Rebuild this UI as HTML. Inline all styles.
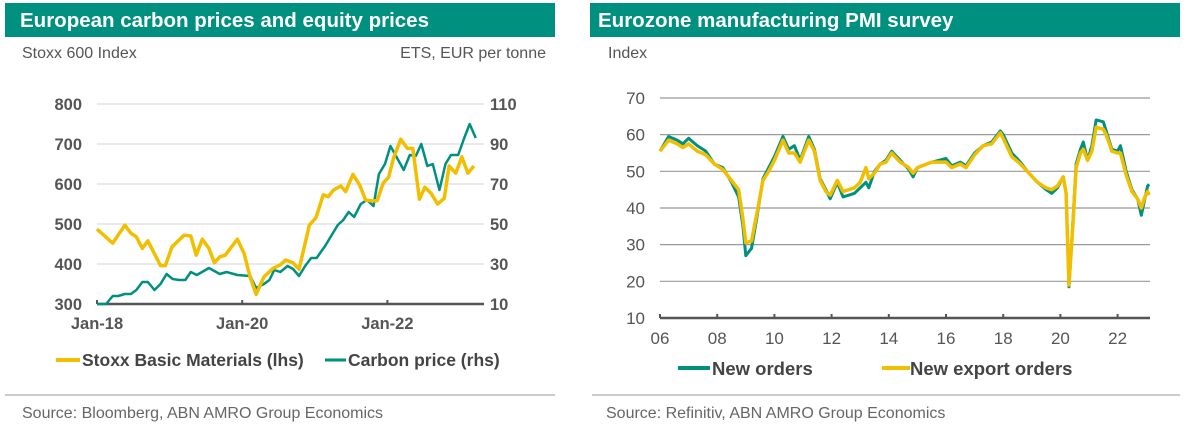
<!DOCTYPE html>
<html><head><meta charset="utf-8"><style>
body{margin:0;background:#fff;width:1189px;height:431px;overflow:hidden;font-family:"Liberation Sans",Arial,sans-serif}
svg text{font-family:"Liberation Sans",Arial,sans-serif}
</style></head><body>
<svg id="s" width="1189" height="431" xmlns="http://www.w3.org/2000/svg">
<rect x="5" y="3" width="550" height="34" fill="#00907F"/>
<text x="20" y="27" font-size="20.5" font-weight="bold" fill="#fff">European carbon prices and equity prices</text>
<text x="22" y="58" font-size="16" fill="#555">Stoxx 600 Index</text>
<text x="546" y="58" font-size="16" fill="#555" text-anchor="end">ETS, EUR per tonne</text>
<rect x="590" y="3" width="590" height="34" fill="#00907F"/>
<text x="598" y="27" font-size="20.5" font-weight="bold" fill="#fff">Eurozone manufacturing PMI survey</text>
<text x="608" y="58" font-size="16" fill="#555">Index</text>
<g id="L"></g><g id="R"></g>
<line x1="5" y1="395" x2="555" y2="395" stroke="#bbb" stroke-width="1.5"/>
<line x1="592" y1="395" x2="1180" y2="395" stroke="#bbb" stroke-width="1.5"/>
<text x="22" y="418" font-size="16" fill="#666">Source: Bloomberg, ABN AMRO Group Economics</text>
<text x="606" y="418" font-size="16" fill="#666">Source: Refinitiv, ABN AMRO Group Economics</text>
</svg>
<script>
// Left chart data (month index from Jan-18)
const stoxxMonths=[0,2.6,4.6,5.6,6.5,7.5,8.4,10.5,11.3,12.4,14.4,15.5,16.4,17.4,18.5,19.4,20.3,21.2,23.2,24.3,25.3,26.3,27.6,29.1,30.3,31.2,32.4,33.4,35.1,36.2,37.4,38.2,39.1,40.3,41.1,42.3,43.4,44.4,45.3,46.3,47.3,48.2,49.0,50.2,51.3,52.2,53.3,54.2,55.2,56.3,57.4,58.2,59.3,60.3,61.3,62.3];
const stoxxValues=[487,452,497,477,468,439,458,396,396,443,472,470,422,462,439,403,418,422,462,427,368,324,368,389,398,410,403,387,497,516,573,568,585,595,581,624,598,560,558,558,602,617,664,712,689,689,562,592,577,550,564,645,627,668,627,645];
const carbonMonths=[0,1.5,2.6,3.5,4.6,5.6,6.5,7.5,8.4,9.5,10.5,11.5,12.5,13.6,14.6,15.5,16.5,18.5,20.3,21.4,23.2,25.3,26.3,27.6,28.5,29.3,30.3,31.5,32.4,33.4,34.4,35.4,36.3,37.7,38.9,39.8,40.7,41.6,42.5,43.6,44.6,45.7,46.6,47.6,48.5,49.6,50.7,51.7,52.7,53.6,54.6,55.5,56.6,57.6,58.5,59.7,60.7,61.6,62.6];
const carbonValues=[10,10,14,14,15,15,17,21,21,17,20,25,22.5,22,22,26,24.5,28,25,26,24.5,24,18,20,22,27,26,29,27.5,24,29,33,33,39,45,49.5,52,56,53.5,60,62,59,75,80,89,83,77,84.5,84,90,79,80,67,80,84.5,84.5,93,100,93];
const leftTicks=[800,700,600,500,400,300];
const rightTicks=[110,90,70,50,30,10];
const xTickLabels=["Jan-18","Jan-20","Jan-22"];
const xTickMonths=[0,24,48];
// Right chart data (decimal years)
const ordYears=[2006.0,2006.3,2006.6,2006.8,2007.0,2007.3,2007.6,2007.9,2008.2,2008.5,2008.75,2008.9,2009.0,2009.2,2009.4,2009.6,2009.8,2010.0,2010.3,2010.5,2010.7,2010.9,2011.2,2011.4,2011.6,2011.8,2011.95,2012.2,2012.4,2012.6,2012.8,2013.0,2013.2,2013.3,2013.5,2013.7,2013.9,2014.1,2014.4,2014.7,2014.85,2015.0,2015.5,2016.0,2016.2,2016.5,2016.7,2017.0,2017.3,2017.6,2017.9,2018.0,2018.3,2018.6,2018.9,2019.2,2019.5,2019.7,2019.9,2020.1,2020.2,2020.3,2020.45,2020.55,2020.7,2020.8,2020.95,2021.1,2021.25,2021.5,2021.6,2021.8,2022.0,2022.1,2022.3,2022.5,2022.7,2022.83,2022.95,2023.05,2023.1];
const ordValues=[55.5,59.5,58.5,57.5,59,57,55.5,52,51,47,43,35,27,29,38,48,51,54,59.5,56,57,53,59.5,56,48,45,42.5,47,43,43.5,44,45.5,47,45.5,50,52,53,55.5,53,50.5,48.5,51,52.5,53.5,51.5,52.5,51.5,55,57,58,61,60,55,52.5,49.5,47,45,44,45.5,48.5,44,18.5,38,52,56,58,53,57,64,63.5,61,56,55.5,57,50,45,42.5,38,42.5,46,46.5];
const expValues=[55.5,58.5,57.5,56.5,57.5,55.5,54.5,52,50.5,47.5,45,37,30.5,31,39,47.5,50,53,58.5,55,55,52.5,58.5,55.5,47.5,44.5,43.5,47.5,44.5,45,45.5,47,51,48,49.5,52,52.5,55,52.5,51,49.5,51,52.5,52.5,51,52,51,54.5,57,57.5,60.5,59,54,52,49.5,47,45.5,45,46,48.5,44,19,37,51,55,56,53,55.5,62,61.5,60,55.5,55,55,49,44.5,42.5,40,43,44.5,43.5];
const pmiTicks=[70,60,50,40,30,20,10];
const pmiXLabels=["06","08","10","12","14","16","18","20","22"];
const pmiXYears=[2006,2008,2010,2012,2014,2016,2018,2020,2022];

const NS="http://www.w3.org/2000/svg";
function mk(tag,attrs,parent,txt){const e=document.createElementNS(NS,tag);for(const k in attrs)e.setAttribute(k,attrs[k]);if(txt!==undefined)e.textContent=txt;parent.appendChild(e);return e;}
const L=document.getElementById('L'),R=document.getElementById('R');
const lx=m=>97+m*6.05, ly=v=>304-(v-300)*0.4, ry=v=>304-(v-10)*2;
leftTicks.forEach((t,i)=>{
  if(t!==300){const g=mk('line',{x1:97,x2:484,y1:ly(t),y2:ly(t),stroke:'#ddd','stroke-width':1.2},L);
  
  }
  const tx=mk('text',{x:82,y:ly(t)+6,'font-size':16.5,'font-weight':'bold',fill:'#555','text-anchor':'end'},L,t);
  
  
});
rightTicks.forEach(t=>{
  const tx=mk('text',{x:490,y:ry(t)+6,'font-size':16.5,'font-weight':'bold',fill:'#555'},L,t);
  
  
});
const la=mk('line',{x1:97,x2:484,y1:304,y2:304,stroke:'#555','stroke-width':2.5},L);


xTickLabels.forEach((s,i)=>{
  const t=mk('line',{x1:lx(xTickMonths[i]),x2:lx(xTickMonths[i]),y1:300,y2:304,stroke:'#555','stroke-width':2},L);
  
  
  const tx=mk('text',{x:lx(xTickMonths[i]),y:329,'font-size':16.5,'font-weight':'bold',fill:'#555','text-anchor':'middle'},L,s);
  
  
});
const cp=mk('polyline',{points:carbonMonths.map((m,i)=>lx(m)+','+ry(carbonValues[i])).join(' '),fill:'none',stroke:'#00907F','stroke-width':2.5,'stroke-linejoin':'round'},L);


const sp=mk('polyline',{points:stoxxMonths.map((m,i)=>lx(m)+','+ly(stoxxValues[i])).join(' '),fill:'none',stroke:'#F2BE00','stroke-width':3.5,'stroke-linejoin':'round'},L);


let e=mk('line',{x1:56,x2:80,y1:360,y2:360,stroke:'#F2BE00','stroke-width':4},L);


e=mk('text',{x:82,y:366,'font-size':17.5,'font-weight':'bold',fill:'#444'},L,'Stoxx Basic Materials (lhs)');


e=mk('line',{x1:325,x2:346,y1:360,y2:360,stroke:'#00907F','stroke-width':3},L);


e=mk('text',{x:348,y:366,'font-size':17.5,'font-weight':'bold',fill:'#444'},L,'Carbon price (rhs)');


const px=y=>660+(y-2006)*28.6, py=v=>318-(v-10)*3.667;
pmiTicks.forEach(t=>{
  const g=mk('line',{x1:660,x2:1150,y1:py(t),y2:py(t),stroke:t===10?'#555':'#999','stroke-width':t===10?2.5:1.2},R);
  
  
  const tx=mk('text',{x:645,y:py(t)+6,'font-size':17,fill:'#555','text-anchor':'end'},R,t);
  
  
});
pmiXLabels.forEach((s,i)=>{
  const t=mk('line',{x1:px(pmiXYears[i]),x2:px(pmiXYears[i]),y1:314,y2:318,stroke:'#555','stroke-width':2},R);
  
  
  const tx=mk('text',{x:px(pmiXYears[i]),y:344,'font-size':17,fill:'#555','text-anchor':'middle'},R,s);
  
  
});
e=mk('polyline',{points:ordYears.map((y,i)=>px(y)+','+py(ordValues[i])).join(' '),fill:'none',stroke:'#00907F','stroke-width':3,'stroke-linejoin':'round'},R);


e=mk('polyline',{points:ordYears.map((y,i)=>px(y)+','+py(expValues[i])).join(' '),fill:'none',stroke:'#F2BE00','stroke-width':3.5,'stroke-linejoin':'round'},R);


e=mk('line',{x1:678,x2:710,y1:368,y2:368,stroke:'#00907F','stroke-width':4},R);


e=mk('text',{x:712,y:375,'font-size':18.5,'font-weight':'bold',fill:'#444'},R,'New orders');


e=mk('line',{x1:882,x2:910,y1:368,y2:368,stroke:'#F2BE00','stroke-width':4},R);


e=mk('text',{x:910,y:375,'font-size':18.5,'font-weight':'bold',fill:'#444'},R,'New export orders');


</script>
</body></html>
